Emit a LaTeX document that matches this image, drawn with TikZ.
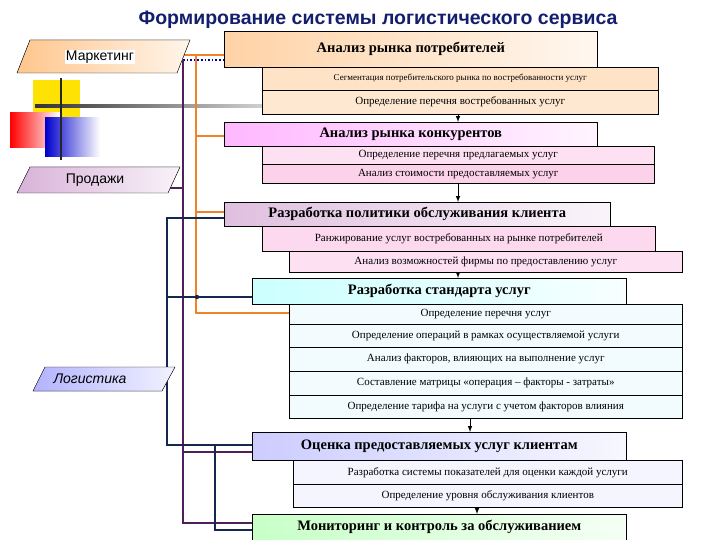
\documentclass[tikz,border=0pt]{standalone}
\usepackage{fontspec}
\setmainfont{Liberation Serif}
\newfontfamily\arialf{Liberation Sans}
\definecolor{navyc}{RGB}{20,40,80}
\definecolor{orc}{RGB}{240,130,40}
\definecolor{puc}{RGB}{80,30,90}
\definecolor{titc}{RGB}{20,30,110}
\begin{document}
\begin{tikzpicture}[x=1pt,y=-1pt,
 mainbox/.style={draw=black,line width=0.6pt,minimum height=#1,anchor=north west,inner sep=0pt,font=\bfseries\fontsize{14.5}{15}\selectfont},
 subbox/.style={draw=black,line width=0.5pt,anchor=north west,inner sep=0pt,font=\fontsize{11}{12}\selectfont},
 para/.style={font=\arialf\fontsize{14}{15}\selectfont},
 orl/.style={draw=orc,line width=1.8pt},
 pul/.style={draw=puc,line width=1.6pt},
 nvl/.style={draw=navyc,line width=1.8pt},
 arr/.style={-latex,line width=1pt}]
\useasboundingbox (0,0) rectangle (720,540);
\node[font=\arialf\bfseries\fontsize{19.5}{21}\selectfont,text=titc] (title) at (378,20) {Формирование системы логистического сервиса};
% decor
\fill[yellow!85!orange] (33,80) rectangle (80,117);
\shade[left color=red,right color=white] (10,113) rectangle (60,148);
\shade[left color=blue!80!black,right color=white] (45,118) rectangle (100,157);
\shade[left color=black!80,right color=white] (35,105) rectangle (330,107.5);
\draw[line width=1.8pt,black!85] (61,78) -- (61,160);
% connectors
\draw[orl] (183,55) -- (224,55);
\draw[orl] (196,55) -- (196,313) -- (289,313);
\draw[orl] (196,136) -- (224,136);
\draw[orl] (196,212) -- (224,212);
\draw[pul,dotted,draw=blue!70!black] (183,60) -- (224,60);
\draw[pul] (183,60) -- (183,523) -- (252,523);
\draw[pul] (168,188) -- (183,188);
\draw[pul] (183,452) -- (252,452);
\draw[nvl] (224,218) -- (167,218) -- (167,445) -- (252,445);
\draw[nvl] (167,297) -- (252,297);
\coordinate (dot) at (197,297);
\fill[navyc] (dot) circle (2.2);
\draw[nvl] (162,380) -- (167,380);
\draw[nvl] (215,445) -- (215,530) -- (252,530);
% left parallelograms
\fill[left color=orange!45,right color=orange!8,draw=black] (30,40) -- (190,40) -- (177,73) -- (17,73) -- cycle;
\node[para,fill=white,inner sep=1pt] (mk) at (100,57) {Маркетинг};
\fill[left color=violet!30,right color=violet!5,draw=black] (30,167) -- (180,167) -- (168,193) -- (17,193) -- cycle;
\node[para] (pr) at (95,180) {Продажи};
\fill[left color=blue!30,right color=blue!5,draw=black] (45,367) -- (175,367) -- (162,391) -- (33,391) -- cycle;
\node[para,font=\arialf\itshape\fontsize{14}{15}\selectfont] (lg) at (90,379) {Логистика};
% main boxes
\node[mainbox=36pt,minimum width=373pt,left color=orange!35,right color=orange!6] (b1) at (224,31) {Анализ рынка потребителей};
\node[subbox,minimum width=396pt,minimum height=23pt,fill=orange!22,font=\fontsize{9}{10}\selectfont] (s11) at (262,67) {Сегментация потребительского рынка по востребованности услуг};
\node[subbox,minimum width=396pt,minimum height=24pt,fill=orange!18] (s12) at (262,90) {Определение перечня востребованных услуг};
\node[mainbox=24pt,minimum width=373pt,left color=magenta!28,right color=magenta!4] (b2) at (224,122) {Анализ рынка конкурентов};
\node[subbox,minimum width=392pt,minimum height=18pt,fill=magenta!12] (s21) at (262,146) {Определение перечня предлагаемых услуг};
\node[subbox,minimum width=392pt,minimum height=19pt,fill=magenta!18] (s22) at (262,164) {Анализ стоимости предоставляемых услуг};
\node[mainbox=24pt,minimum width=386pt,left color=violet!25,right color=violet!4] (b3) at (224,202) {Разработка политики обслуживания клиента};
\node[subbox,minimum width=393pt,minimum height=25pt,fill=magenta!15] (s31) at (262,226) {Ранжирование услуг востребованных на рынке потребителей};
\node[subbox,minimum width=393pt,minimum height=21pt,fill=magenta!12] (s32) at (289,251) {Анализ возможностей фирмы по предоставлению услуг};
\node[mainbox=26pt,minimum width=374pt,left color=cyan!20,right color=cyan!3] (b4) at (252,278) {Разработка стандарта услуг};
\node[subbox,minimum width=393pt,minimum height=20pt,fill=cyan!5] (s41) at (289,304) {Определение перечня услуг};
\node[subbox,minimum width=393pt,minimum height=23pt,fill=cyan!5] (s42) at (289,324) {Определение операций в рамках осуществляемой услуги};
\node[subbox,minimum width=393pt,minimum height=24pt,fill=cyan!5] (s43) at (289,347) {Анализ факторов, влияющих на выполнение услуг};
\node[subbox,minimum width=393pt,minimum height=24pt,fill=cyan!5] (s44) at (289,371) {Составление матрицы «операция – факторы - затраты»};
\node[subbox,minimum width=393pt,minimum height=23pt,fill=cyan!5] (s45) at (289,395) {Определение тарифа на услуги с учетом факторов влияния};
\node[mainbox=28pt,minimum width=374pt,left color=blue!20,right color=blue!3] (b5) at (252,432) {Оценка предоставляемых услуг клиентам};
\node[subbox,minimum width=389pt,minimum height=24pt,fill=blue!4] (s51) at (293,460) {Разработка системы показателей для оценки каждой услуги};
\node[subbox,minimum width=389pt,minimum height=23pt,fill=blue!4] (s52) at (293,484) {Определение уровня обслуживания клиентов};
\node[mainbox=26pt,minimum width=374pt,left color=green!22,right color=green!4] (b6) at (252,514) {Мониторинг и контроль за обслуживанием};
% arrows
\draw[arr] (458,114) -- (458,122);
\draw[arr] (458,183) -- (458,202);
\draw[arr] (458,272) -- (458,278);
\draw[arr] (470,418) -- (470,432);
\draw[arr] (477,507) -- (477,514);
\end{tikzpicture}
\end{document}
